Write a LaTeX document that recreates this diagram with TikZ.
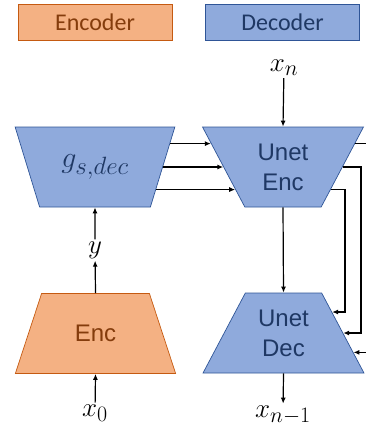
\documentclass[tikz,border=0pt]{standalone}
\usepackage{fix-cm}
\usepackage{fontspec}
\setsansfont{Liberation Sans}
\newfontfamily\calibri{Carlito}
\usetikzlibrary{arrows.meta,positioning,calc,shapes.geometric}
\DeclareMathSizes{27}{27}{22}{16}
\DeclareMathSizes{30}{30}{25}{18}
\definecolor{encfill}{HTML}{F4B183}
\definecolor{encdraw}{HTML}{C55A11}
\definecolor{enctext}{HTML}{843C0C}
\definecolor{decfill}{HTML}{8FAADC}
\definecolor{decdraw}{HTML}{2F5597}
\definecolor{dectext}{HTML}{1F3864}

\begin{document}
\begin{tikzpicture}[x=1pt,y=-1pt,
  legend/.style={draw,line width=0.8pt,minimum width=154pt,minimum height=36pt,inner sep=0pt,font=\calibri\fontsize{24}{28}\selectfont},
  trap/.style={trapezium,trapezium stretches=true,minimum width=161pt,minimum height=80pt,inner sep=0pt,line width=0.7pt,align=center,font=\sffamily\fontsize{24}{30}\selectfont},
  up/.style={trap,trapezium angle=59},
  down/.style={trap,trapezium angle=121},
  dec/.style={fill=decfill,draw=decdraw,text=dectext},
  enc/.style={fill=encfill,draw=encdraw,text=enctext},
  lbl/.style={inner sep=2pt,font=\fontsize{27}{30}\selectfont},
  conn/.style={line width=1.2pt,-{Latex[length=6pt,width=5pt]}}]
  \useasboundingbox (0,0) rectangle (366,429);

  \node[legend,enc] (encleg) at (95,22) {Encoder};
  \node[legend,dec] (decleg) at (282.5,22) {Decoder};

  \node[down,dec] (gs) at (95,167) {\fontsize{30}{32}\selectfont$g_{s,dec}$};
  \node[down,dec] (ue) at (283,167) {Unet\\Enc};
  \node[up,dec] (ud) at (283.5,333) {Unet\\Dec};
  \node[up,enc] (enc) at (95.5,333.5) {Enc};

  \node[lbl] (xn) at (284,68) {$x_n$};
  \node[lbl] (y) at (95,250) {$y$};
  \node[lbl] (x0) at (95,413) {$x_0$};
  \node[lbl] (xm) at (283,415) {$x_{n-1}$};

  \coordinate (r1) at (345,0);
  \coordinate (r2) at (361,0);
  \coordinate (r3) at (372,0);

  \draw[conn] (xn) -- (ue.north);
  \draw[conn] (ue.south) -- (ud.north);
  \draw[conn] (ud.south) -- (xm);
  \draw[conn] (x0) -- (enc.south);
  \draw[conn] (enc.north) -- (y);
  \draw[conn] (y) -- (gs.south);

  \foreach \f in {0.21,0.5,0.78}
    \draw[conn] ($(gs.top right corner)!\f!(gs.bottom right corner)$) -- ($(ue.top left corner)!\f!(ue.bottom left corner)$);

  \coordinate (ea) at ($(ue.top right corner)!0.21!(ue.bottom right corner)$);
  \coordinate (eb) at ($(ue.top right corner)!0.5!(ue.bottom right corner)$);
  \coordinate (ec) at ($(ue.top right corner)!0.78!(ue.bottom right corner)$);
  \coordinate (da) at ($(ud.top right corner)!0.24!(ud.bottom right corner)$);
  \coordinate (db) at ($(ud.top right corner)!0.5!(ud.bottom right corner)$);
  \coordinate (dc) at ($(ud.top right corner)!0.74!(ud.bottom right corner)$);

  \draw[line width=1.2pt] (ea) -- (ea -| r3);
  \draw[conn] (dc -| r3) -- (dc);
  \draw[conn] (eb) -- (eb -| r2) -- (r2 |- db) -- (db);
  \draw[conn] (ec) -- (ec -| r1) -- (r1 |- da) -- (da);
\end{tikzpicture}
\end{document}
